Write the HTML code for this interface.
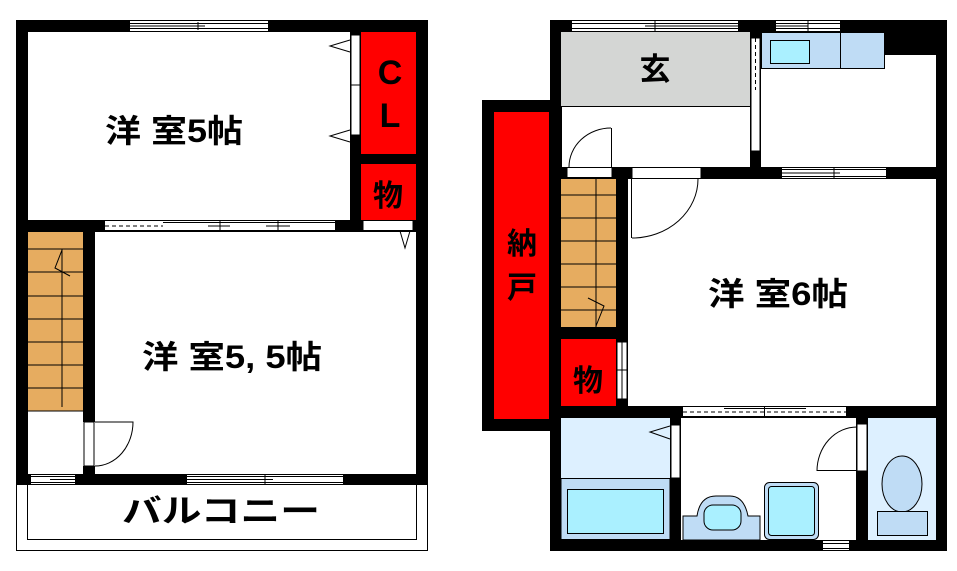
<!DOCTYPE html>
<html><head><meta charset="utf-8"><style>
html,body{margin:0;padding:0;background:#fff;}
svg{display:block;}
text{font-family:"Liberation Sans","Noto Sans CJK JP",sans-serif;fill:#000;font-weight:bold;}
</style></head><body>
<svg width="957" height="571" viewBox="0 0 957 571" xmlns="http://www.w3.org/2000/svg">
<rect x="16.5" y="484.5" width="411" height="66" fill="#fff" stroke="#000" stroke-width="1"/>
<rect x="27.5" y="484.5" width="389" height="55" fill="none" stroke="#000" stroke-width="1"/>
<rect x="16" y="20" width="412" height="12" fill="#000"/>
<rect x="16" y="20" width="12" height="465" fill="#000"/>
<rect x="416" y="20" width="12" height="465" fill="#000"/>
<rect x="16" y="474" width="412" height="11" fill="#000"/>
<rect x="130" y="21" width="138" height="10" fill="#fff"/>
<line x1="130" y1="23.5" x2="268" y2="23.5" stroke="#000"/><line x1="130" y1="28.5" x2="268" y2="28.5" stroke="#000"/>
<line x1="130" y1="26" x2="205" y2="26" stroke="#000"/><line x1="198" y1="22" x2="198" y2="30" stroke="#000"/>
<rect x="350" y="32" width="11" height="199" fill="#000"/>
<rect x="361" y="32" width="55" height="122" fill="#f00"/>
<rect x="361" y="154" width="55" height="10" fill="#000"/>
<rect x="361" y="164" width="55" height="56" fill="#f00"/>
<rect x="351" y="35" width="9" height="100" fill="#fff" stroke="#000" stroke-width="1"/>
<line x1="351" y1="85" x2="360" y2="85" stroke="#000"/>
<polyline points="350,40 330,46 350,52" fill="none" stroke="#000"/>
<polyline points="350,130 330,136 350,142" fill="none" stroke="#000"/>
<rect x="16" y="220" width="412" height="12" fill="#000"/>
<rect x="105" y="221" width="230" height="10" fill="#fff"/>
<line x1="105" y1="230.5" x2="335" y2="230.5" stroke="#000"/>
<line x1="163" y1="222.5" x2="335" y2="222.5" stroke="#000"/>
<line x1="105" y1="226" x2="163" y2="226" stroke="#000" stroke-dasharray="4,3"/>
<line x1="208" y1="226" x2="230" y2="226" stroke="#000"/><line x1="220" y1="221" x2="220" y2="231" stroke="#000"/>
<line x1="266" y1="226" x2="290" y2="226" stroke="#000"/><line x1="278" y1="221" x2="278" y2="231" stroke="#000"/>
<rect x="363" y="220.5" width="50" height="10" fill="#fff" stroke="#000" stroke-width="1"/>
<polyline points="400,231 405,248 410,231" fill="none" stroke="#000"/>
<rect x="28" y="232" width="55" height="179" fill="#e6ac60"/>
<g stroke="#000" stroke-width="1">
<line x1="28" y1="249" x2="83" y2="249"/><line x1="28" y1="272" x2="83" y2="272"/><line x1="28" y1="296" x2="83" y2="296"/>
<line x1="28" y1="319" x2="83" y2="319"/><line x1="28" y1="342" x2="83" y2="342"/><line x1="28" y1="365" x2="83" y2="365"/>
<line x1="28" y1="388" x2="83" y2="388"/><line x1="28" y1="411" x2="83" y2="411"/>
<line x1="62" y1="249" x2="62" y2="407"/>
<polyline points="62,250 55,268 70,276" fill="none"/>
</g>
<rect x="83" y="232" width="12" height="190" fill="#000"/>
<rect x="83" y="466" width="12" height="10" fill="#000"/>
<rect x="84" y="422" width="10" height="44" fill="#fff" stroke="#000"/>
<path d="M95 422 L133 422 A38 44 0 0 1 95 466" fill="none" stroke="#000"/>
<rect x="31" y="475" width="44" height="9" fill="#fff"/>
<line x1="31" y1="476.5" x2="75" y2="476.5" stroke="#000"/><line x1="31" y1="482.5" x2="75" y2="482.5" stroke="#000"/>
<line x1="50" y1="479.5" x2="75" y2="479.5" stroke="#000"/>
<rect x="187" y="475" width="156" height="9" fill="#fff"/>
<line x1="187" y1="476.5" x2="343" y2="476.5" stroke="#000"/><line x1="187" y1="482.5" x2="343" y2="482.5" stroke="#000"/>
<line x1="187" y1="479.5" x2="273" y2="479.5" stroke="#000"/><line x1="265" y1="475" x2="265" y2="484" stroke="#000"/>
<text x="105" y="142" font-size="32" textLength="138" lengthAdjust="spacingAndGlyphs">洋 室5帖</text>
<text x="142" y="368" font-size="32" textLength="180" lengthAdjust="spacingAndGlyphs">洋 室5, 5帖</text>
<text x="122" y="522" font-size="32" textLength="198" lengthAdjust="spacingAndGlyphs">バルコニー</text>
<text x="390" y="84" font-size="34" text-anchor="middle">C</text>
<text x="390" y="127" font-size="34" text-anchor="middle">L</text>
<text x="388" y="206" font-size="30" text-anchor="middle">物</text>

<rect x="482" y="100" width="80" height="331" fill="#000"/>
<rect x="494" y="112" width="55" height="307" fill="#f00"/>
<rect x="550" y="115" width="8" height="137" fill="#fff" stroke="#000"/>
<line x1="554" y1="115" x2="554" y2="252" stroke="#000" stroke-dasharray="4,3"/>
<rect x="550" y="20" width="397" height="12" fill="#000"/>
<rect x="550" y="20" width="11" height="531" fill="#000"/>
<rect x="936" y="20" width="11" height="531" fill="#000"/>
<rect x="550" y="540" width="397" height="11" fill="#000"/>
<rect x="572" y="21" width="166" height="10" fill="#fff"/>
<line x1="572" y1="23.5" x2="738" y2="23.5" stroke="#000"/><line x1="572" y1="28.5" x2="738" y2="28.5" stroke="#000"/>
<line x1="645" y1="26" x2="738" y2="26" stroke="#000"/><line x1="655" y1="21" x2="655" y2="31" stroke="#000"/>
<rect x="776" y="21" width="64" height="10" fill="#fff"/>
<line x1="776" y1="23.5" x2="840" y2="23.5" stroke="#000"/><line x1="776" y1="28.5" x2="840" y2="28.5" stroke="#000"/>
<line x1="776" y1="26" x2="808" y2="26" stroke="#000"/><line x1="808" y1="21" x2="808" y2="31" stroke="#000"/>
<rect x="561" y="32" width="189" height="74" fill="#d4d6d4"/>
<line x1="561" y1="106.5" x2="750" y2="106.5" stroke="#000"/>
<text x="655" y="80" font-size="31" text-anchor="middle">玄</text>
<rect x="750" y="32" width="11" height="147" fill="#000"/>
<rect x="751" y="38" width="9" height="113" fill="#fff" stroke="#000"/>
<line x1="755.5" y1="38" x2="755.5" y2="90" stroke="#000" stroke-dasharray="4,3"/>
<rect x="884" y="32" width="52" height="23" fill="#000"/>
<rect x="761.5" y="32.5" width="123" height="36" fill="#bfdcf5" stroke="#000"/>
<line x1="840.5" y1="32" x2="840.5" y2="68" stroke="#000"/>
<rect x="770.5" y="40.5" width="39" height="23" fill="#aaf0ff" stroke="#000"/>
<rect x="561" y="167" width="375" height="12" fill="#000"/>
<rect x="567" y="167.5" width="45" height="10" fill="#fff" stroke="#000"/>
<rect x="632" y="167.5" width="69" height="11" fill="#fff" stroke="#000"/>
<rect x="782" y="168" width="104" height="10" fill="#fff"/>
<line x1="782" y1="169.5" x2="886" y2="169.5" stroke="#000"/><line x1="782" y1="176.5" x2="886" y2="176.5" stroke="#000"/>
<line x1="782" y1="173" x2="840" y2="173" stroke="#000"/><line x1="834" y1="168" x2="834" y2="178" stroke="#000"/>
<line x1="611.5" y1="128" x2="611.5" y2="167" stroke="#000"/>
<path d="M611 128 A42 39 0 0 0 569 167" fill="none" stroke="#000"/>
<rect x="561" y="179" width="55" height="148" fill="#e6ac60"/>
<g stroke="#000" stroke-width="1">
<line x1="561" y1="195" x2="616" y2="195"/><line x1="561" y1="218" x2="616" y2="218"/><line x1="561" y1="241" x2="616" y2="241"/>
<line x1="561" y1="264" x2="616" y2="264"/><line x1="561" y1="287" x2="616" y2="287"/><line x1="561" y1="310" x2="616" y2="310"/>
<line x1="596" y1="179" x2="596" y2="327"/>
<polyline points="588,298 604,306 596,326" fill="none"/>
</g>
<rect x="561" y="327" width="55" height="12" fill="#000"/>
<rect x="616" y="167" width="12" height="243" fill="#000"/>
<rect x="561" y="339" width="55" height="67" fill="#f00"/>
<rect x="617" y="342" width="10" height="57" fill="#fff" stroke="#000"/>
<line x1="622" y1="342" x2="622" y2="399" stroke="#000"/>
<line x1="617" y1="370" x2="627" y2="370" stroke="#000"/>
<line x1="631.5" y1="179" x2="631.5" y2="238" stroke="#000"/>
<path d="M632 238 A66 59 0 0 0 698 179" fill="none" stroke="#000"/>
<rect x="550" y="406" width="397" height="12" fill="#000"/>
<rect x="683" y="407" width="163" height="10" fill="#fff"/>
<line x1="683" y1="416.5" x2="846" y2="416.5" stroke="#000"/>
<line x1="724" y1="408.5" x2="806" y2="408.5" stroke="#000"/>
<line x1="683" y1="412" x2="846" y2="412" stroke="#000" stroke-dasharray="4,3"/>
<line x1="764.5" y1="407" x2="764.5" y2="417" stroke="#000"/>
<rect x="561" y="418" width="109" height="122" fill="#ddf0ff"/>
<rect x="561" y="478.5" width="109" height="61" fill="#bfdcf5" stroke="#000"/>
<rect x="567.5" y="489.5" width="96" height="44" fill="#aaf0ff" stroke="#000"/>
<rect x="670" y="418" width="11" height="122" fill="#000"/>
<rect x="671" y="425" width="9" height="53" fill="#fff" stroke="#000"/>
<polyline points="670,426 650,432 670,439" fill="none" stroke="#000"/>
<rect x="681" y="418" width="176" height="122" fill="#fff"/>
<path d="M683 516 L697 516 Q700 496 716 496 L730 496 Q744 496 748 516 L760 516 L760 540 L683 540 Z" fill="#bfdcf5" stroke="#000"/>
<rect x="704" y="505" width="37" height="25" rx="9" fill="#aaf0ff" stroke="#000"/>
<rect x="764.5" y="482.5" width="54" height="57" rx="5" fill="#bfdcf5" stroke="#000"/>
<rect x="768.5" y="486.5" width="46" height="49" rx="3" fill="#aaf0ff" stroke="#000"/>
<rect x="856" y="418" width="12" height="122" fill="#000"/>
<rect x="857" y="424" width="10" height="47" fill="#fff" stroke="#000"/>
<line x1="817" y1="470.5" x2="857" y2="470.5" stroke="#000"/>
<path d="M817 471 A40 44 0 0 1 857 427" fill="none" stroke="#000"/>
<rect x="823" y="541" width="26" height="9" fill="#fff"/>
<line x1="823" y1="543.5" x2="849" y2="543.5" stroke="#000"/><line x1="823" y1="548.5" x2="849" y2="548.5" stroke="#000"/>
<rect x="868" y="418" width="68" height="122" fill="#ddf0ff"/>
<ellipse cx="902" cy="484" rx="20" ry="28" fill="#bfdcf5" stroke="#000"/>
<rect x="877.5" y="511.5" width="50" height="24" fill="#bfdcf5" stroke="#000"/>
<text x="522" y="254" font-size="30" text-anchor="middle">納</text>
<text x="522" y="298" font-size="30" text-anchor="middle">戸</text>
<text x="588" y="391" font-size="30" text-anchor="middle">物</text>
<text x="708" y="305" font-size="32" textLength="140" lengthAdjust="spacingAndGlyphs">洋 室6帖</text>
</svg>
</body></html>
